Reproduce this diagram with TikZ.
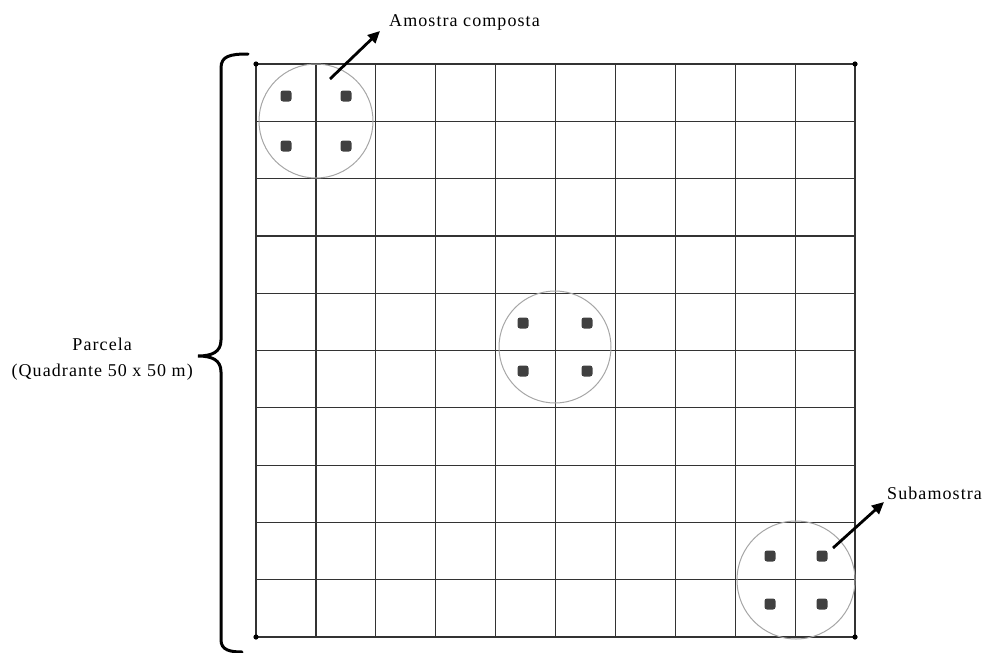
\documentclass[tikz,border=0pt]{standalone}
\usepackage{fontspec}
\setmainfont{Liberation Serif}
\usetikzlibrary{arrows.meta,positioning}

\begin{document}
\begin{tikzpicture}[
  x=1pt,y=-1pt,
  font=\fontsize{18}{26}\selectfont\addfontfeature{LetterSpace=6},
  gridline/.style={draw=black!80,line width=1.2pt},
  plotline/.style={draw=black!35,line width=1pt},
  subsample/.style={fill=black!75,rounded corners=2.5pt},
  arr/.style={-{Triangle[length=12pt,width=11pt]},line width=2.8pt},
  lbl/.style={inner sep=1pt,align=center},
]
\useasboundingbox (0,0) rectangle (985,653);
% ----- grid of the plot
\foreach \i in {0,...,10} {
  \draw[gridline] ({256+59.9*\i},64) -- ({256+59.9*\i},637);
  \draw[gridline] (256,{64+57.3*\i}) -- (855,{64+57.3*\i});
}
\foreach \p in {(256,64),(855,64),(256,637),(855,637)}
  \fill \p circle (2.6pt);
% ----- composite samples
\foreach \cx/\cy/\dx/\dy/\r in {316/121/30/25/57, 555/347/32/24/56, 796/580/26/24/59} {
  \draw[plotline] (\cx,\cy) circle (\r pt);
  \foreach \sx in {-1,1}
    \foreach \sy in {-1,1}
      \fill[subsample] ({\cx+\sx*\dx-5.5},{\cy+\sy*\dy-5.5}) rectangle ({\cx+\sx*\dx+5.5},{\cy+\sy*\dy+5.5});
}
% ----- labels
\node[lbl,anchor=west] (compost) at (388,22) {Amostra composta};
\node[lbl,anchor=west] (subam) at (886,493) {Subamostra};
\node[lbl,anchor=east] (parcela) at (194,359) {Parcela\\(Quadrante 50 x 50 m)};
\coordinate (cstart) at (330,79);
\coordinate (ctip) at (380,31);
\coordinate (sstart) at (833,548);
\coordinate (stip) at (884,502);
\draw[arr] (cstart) -- (ctip);
\draw[arr] (sstart) -- (stip);
% ----- brace
\coordinate (btop) at (248,54);
\coordinate (bbot) at (242,652);
\coordinate (bmid) at (198,356);
\draw[line width=3pt,line cap=round]
  (btop) .. controls (230,54) and (221,56) .. (221,68)
  -- (221,340) .. controls (221,352) and (212,356) .. (bmid)
  .. controls (212,356) and (221,360) .. (221,372)
  -- (221,640) .. controls (221,650) and (230,652) .. (bbot);
\end{tikzpicture}
\end{document}
